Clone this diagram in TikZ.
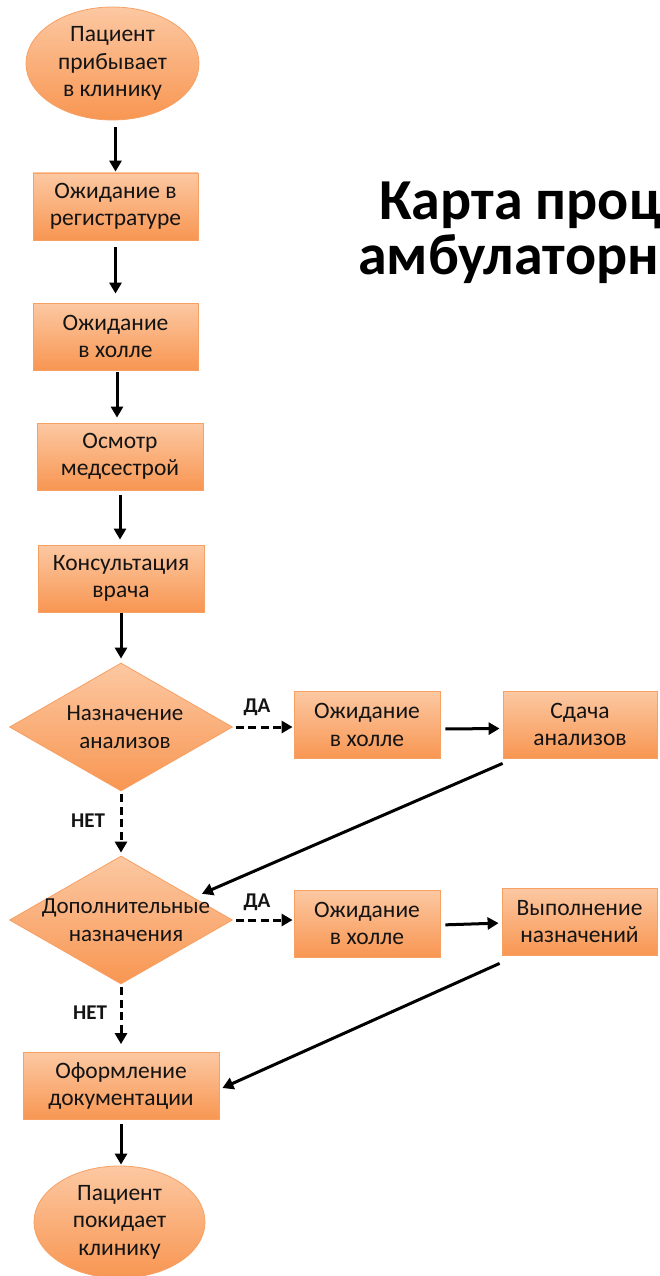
\documentclass[tikz,border=0pt]{standalone}
\usepackage{fontspec}
\setmainfont{Carlito}
\usetikzlibrary{shapes.geometric,arrows.meta,calc}
\definecolor{ortop}{RGB}{252,200,162}
\definecolor{orbot}{RGB}{248,150,82}
\definecolor{orline}{RGB}{247,160,100}
\definecolor{txt}{RGB}{20,20,20}
\begin{document}
\begin{tikzpicture}[x=1pt,y=-1pt,
  shp/.style={draw=orline, line width=0.8pt, top color=ortop, bottom color=orbot,
    text=txt, font=\fontsize{23.5}{27.5}\selectfont, align=center, inner sep=0pt},
  box/.style={shp, rectangle, minimum height=67pt},
  oval/.style={shp, ellipse},
  dia/.style={shp, diamond, minimum width=223pt, minimum height=128pt},
  dtext/.style={text=txt, font=\fontsize{23}{27.5}\selectfont, align=center, inner sep=0pt},
  arr/.style={line width=3pt, -{Triangle[width=12pt,length=11pt]}, black},
  darr/.style={arr, dash pattern=on 8pt off 4.5pt},
  lbl/.style={font=\bfseries\fontsize{21}{24}\selectfont, text=txt, inner sep=0pt},
  ttl/.style={font=\bfseries\fontsize{58}{62}\selectfont, text=black, inner sep=0pt, anchor=base west},
]
\useasboundingbox (0,0) rectangle (659,1276);
\clip (0,0) rectangle (659,1276);

% title
\node[ttl] (t1) at (379,219) {Карта проц};
\node[ttl] (t2) at (358,274) {амбулаторн};

% main column
\node[oval, minimum width=173pt, minimum height=113pt] (e1) at (112.5,63.5) {Пациент\\прибывает\\в клинику};
\node[box, minimum width=165pt] (b1) at (115.5,206.5) {Ожидание в\\регистратуре};
\node[box, minimum width=165pt] (b2) at (115.5,336.5) {Ожидание\\в холле};
\node[box, minimum width=166pt] (b3) at (120,456.5) {Осмотр\\медсестрой};
\node[box, minimum width=166pt] (b4) at (121,578.5) {Консультация\\врача};
\node[dia] (d1) at (121,727) {};
\node[dtext] (d1t) at ([xshift=4pt]d1.center) {Назначение\\анализов};
\node[box, minimum width=146pt] (b5) at (367,725) {Ожидание\\в холле};
\node[box, minimum width=154pt] (b6) at (580,724.5) {Сдача\\анализов};
\node[dia] (d2) at (121,920) {};
\node[dtext] (d2t) at ([xshift=5pt]d2.center) {Дополнительные\\назначения};
\node[box, minimum width=146pt] (b7) at (367,923.5) {Ожидание\\в холле};
\node[box, minimum width=155pt] (b8) at (579.5,921.5) {Выполнение\\назначений};
\node[box, minimum width=196pt] (b9) at (121,1086) {Оформление\\документации};
\node[oval, minimum width=171pt, minimum height=112pt] (e2) at (119.5,1222) {Пациент\\покидает\\клинику};

% labels
\node[lbl] (l1) at (257,707) {ДА};
\node[lbl] (l2) at (257,902) {ДА};
\node[lbl] (l3) at (88,821) {НЕТ};
\node[lbl] (l4) at (90,1013) {НЕТ};

% connectors
\draw[arr, shorten <=7pt, shorten >=1pt] (b1.north |- e1.south) -- (b1.north);
\draw[arr, shorten <=7pt, shorten >=9pt] (b1.south) -- (b1.south |- b2.north);
\draw[arr, shorten <=2pt, shorten >=5pt] ([xshift=1.5pt]b2.south) -- ([xshift=1.5pt]b2.south |- b3.north);
\draw[arr, shorten <=5pt, shorten >=5pt] (b3.south) -- (b3.south |- b4.north);
\draw[arr, shorten <=1pt, shorten >=4pt] (b4.south) -- (b4.south |- d1.north);
\draw[darr, shorten <=3pt, shorten >=1pt] (d1.east) -- (b5.west |- d1.east);
\draw[arr, shorten <=5pt, shorten >=3pt] ([yshift=-4pt]b5.east) -- ([yshift=-4pt]b6.west);
\draw[arr] ([yshift=-5pt]b6.south west) -- ([shift={(25pt,-6pt)}]d2.north east);
\draw[darr, shorten <=3pt, shorten >=3pt] (d1.south) -- (d2.north);
\draw[darr, shorten <=3pt, shorten >=1pt] (d2.east) -- (b7.west |- d2.east);
\draw[arr, shorten <=5pt, shorten >=3pt] ([yshift=-1.5pt]b7.east) -- ([yshift=-1.5pt]b8.west);
\draw[arr] ([shift={(-2pt,-8pt)}]b8.south west) -- ([shift={(3pt,-2pt)}]b9.east);
\draw[darr, shorten <=3pt, shorten >=8pt] (d2.south) -- (b9.north);
\draw[arr, shorten <=4pt, shorten >=1pt] (b9.south) -- (b9.south |- e2.north);
\end{tikzpicture}
\end{document}
